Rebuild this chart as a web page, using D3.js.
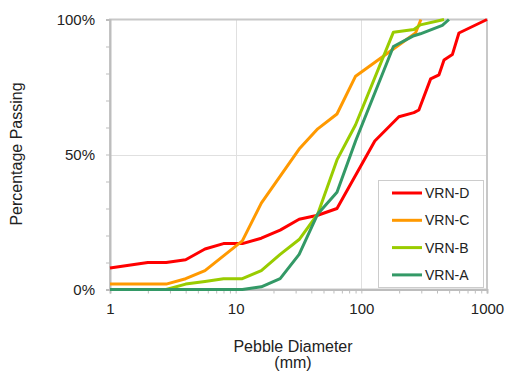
<!DOCTYPE html>
<html>
<head>
<meta charset="utf-8">
<script src="https://cdn.jsdelivr.net/npm/d3@7"></script>
<style>
  html, body { margin: 0; padding: 0; background: #fff; }
  svg { display: block; font-family: "Liberation Sans", Arial, Helvetica, sans-serif; }
</style>
</head>
<body>
<svg id="chart" width="505" height="377"></svg>
<script>
// Cumulative pebble size distributions (size in mm, percent finer)
const seriesNames = ["VRN-D", "VRN-C", "VRN-B", "VRN-A"];
const seriesColors = ["#ff0000", "#ff9900", "#99cc00", "#339966"];

const sizesD = [1, 2, 2.8, 4, 5.7, 8, 11.3, 16, 22.6, 32, 45, 64, 128, 199, 262, 287, 356, 415, 455, 530, 598, 1000];
const pctD   = [8, 10, 10, 11, 15, 17, 17, 19, 22, 26, 27.5, 30, 55, 64, 65.5, 66.5, 78, 79.5, 85, 87, 95, 100];

const sizesC = [1, 2, 2.8, 4, 5.7, 11.3, 16, 32, 45, 64, 90, 270, 298];
const pctC   = [2, 2, 2, 4, 7, 18, 32, 52, 59.5, 65, 79, 95, 100];

const sizesB = [1, 2, 2.8, 4, 5.7, 8, 11.3, 16, 22.6, 32, 45, 64, 90, 180, 262, 295, 455];
const pctB   = [0, 0, 0, 2, 3, 4, 4, 7, 13, 18.5, 28, 48, 61, 95.3, 96.3, 98, 100];

const sizesA = [1, 2, 4, 8, 11.3, 16, 22.6, 32, 45, 64, 90, 180, 262, 295, 441, 498];
const pctA   = [0, 0, 0, 0, 0, 1, 4, 13, 28, 36, 55, 90, 94, 94.7, 97.8, 100];

const xTickLabels = ["1", "10", "100", "1000"];
const yTickLabels = ["0%", "50%", "100%"];

const allSizes = [sizesD, sizesC, sizesB, sizesA];
const allPct = [pctD, pctC, pctB, pctA];

const svg = d3.select("#chart");
const plot = { left: 110, right: 487, top: 19.5, bottom: 289.5 };

const x = d3.scaleLog().domain([1, 1000]).range([plot.left, plot.right]);
const y = d3.scaleLinear().domain([0, 100]).range([plot.bottom, plot.top]);

// Gridlines at decades and at 50%
const grid = svg.append("g").attr("stroke", "#e0e0e0").attr("stroke-width", 1);
[10, 100].forEach(v => {
  grid.append("line")
    .attr("x1", Math.round(x(v)) + 0.5).attr("x2", Math.round(x(v)) + 0.5)
    .attr("y1", plot.top).attr("y2", plot.bottom);
});
grid.append("line")
  .attr("x1", plot.left).attr("x2", plot.right)
  .attr("y1", Math.round(y(50)) + 0.5).attr("y2", Math.round(y(50)) + 0.5);

// Plot frame
svg.append("rect")
  .attr("x", plot.left).attr("y", plot.top)
  .attr("width", plot.right - plot.left).attr("height", plot.bottom - plot.top)
  .attr("fill", "none").attr("stroke", "#c8c8c8").attr("stroke-width", 2);

// Y axis: ticks every 10%, labels at 0 / 50 / 100
const yAxis = d3.axisLeft(y)
  .tickValues(d3.range(0, 101, 10))
  .tickSize(4)
  .tickPadding(11)
  .tickFormat(d => {
    const i = [0, 50, 100].indexOf(d);
    return i >= 0 ? yTickLabels[i] : "";
  });
const gy = svg.append("g").attr("transform", `translate(${plot.left},0)`).call(yAxis);
gy.select(".domain").attr("stroke", "#bdbdbd").attr("stroke-width", 2);
gy.selectAll(".tick line").attr("stroke", "#bdbdbd");
gy.selectAll(".tick text").attr("font-size", 15).attr("fill", "#222");

// X axis: log minor ticks, labels at each decade
const xTicks = [];
[1, 10, 100].forEach(dec => { for (let k = 1; k < 10; k++) xTicks.push(dec * k); });
xTicks.push(1000);
const xAxis = d3.axisBottom(x)
  .tickValues(xTicks)
  .tickSize(4)
  .tickPadding(10)
  .tickFormat(d => {
    const i = [1, 10, 100, 1000].indexOf(d);
    return i >= 0 ? xTickLabels[i] : "";
  });
const gx = svg.append("g").attr("transform", `translate(0,${plot.bottom})`).call(xAxis);
gx.select(".domain").attr("stroke", "#bdbdbd").attr("stroke-width", 2);
gx.selectAll(".tick line").attr("stroke", "#bdbdbd");
gx.selectAll(".tick text").attr("font-size", 15).attr("fill", "#222");

// Distribution curves
const line = d3.line().x(d => x(d[0])).y(d => y(d[1]));
seriesNames.forEach((name, i) => {
  const pts = allSizes[i].map((s, j) => [s, allPct[i][j]]);
  svg.append("path")
    .datum(pts)
    .attr("d", line)
    .attr("fill", "none")
    .attr("stroke", seriesColors[i])
    .attr("stroke-width", 3)
    .attr("stroke-linejoin", "round");
});

// Legend
const lg = svg.append("g");
lg.append("rect")
  .attr("x", 378.5).attr("y", 180.5).attr("width", 105).attr("height", 107)
  .attr("fill", "#fff").attr("stroke", "#cccccc").attr("stroke-width", 1);
seriesNames.forEach((name, i) => {
  const ly = 193 + i * 27.3;
  lg.append("line")
    .attr("x1", 392).attr("x2", 422).attr("y1", ly).attr("y2", ly)
    .attr("stroke", seriesColors[i]).attr("stroke-width", 3);
  lg.append("text")
    .attr("x", 425).attr("y", ly + 5)
    .attr("font-size", 14).attr("fill", "#222")
    .text(name);
});

// Axis titles
svg.append("text")
  .attr("x", 293).attr("y", 352)
  .attr("text-anchor", "middle").attr("font-size", 16).attr("fill", "#222")
  .text("Pebble Diameter");
svg.append("text")
  .attr("x", 293).attr("y", 368)
  .attr("text-anchor", "middle").attr("font-size", 16).attr("fill", "#222")
  .text("(mm)");
svg.append("text")
  .attr("transform", "translate(22,154) rotate(-90)")
  .attr("text-anchor", "middle").attr("font-size", 16).attr("fill", "#222")
  .text("Percentage Passing");
</script>
</body>
</html>
